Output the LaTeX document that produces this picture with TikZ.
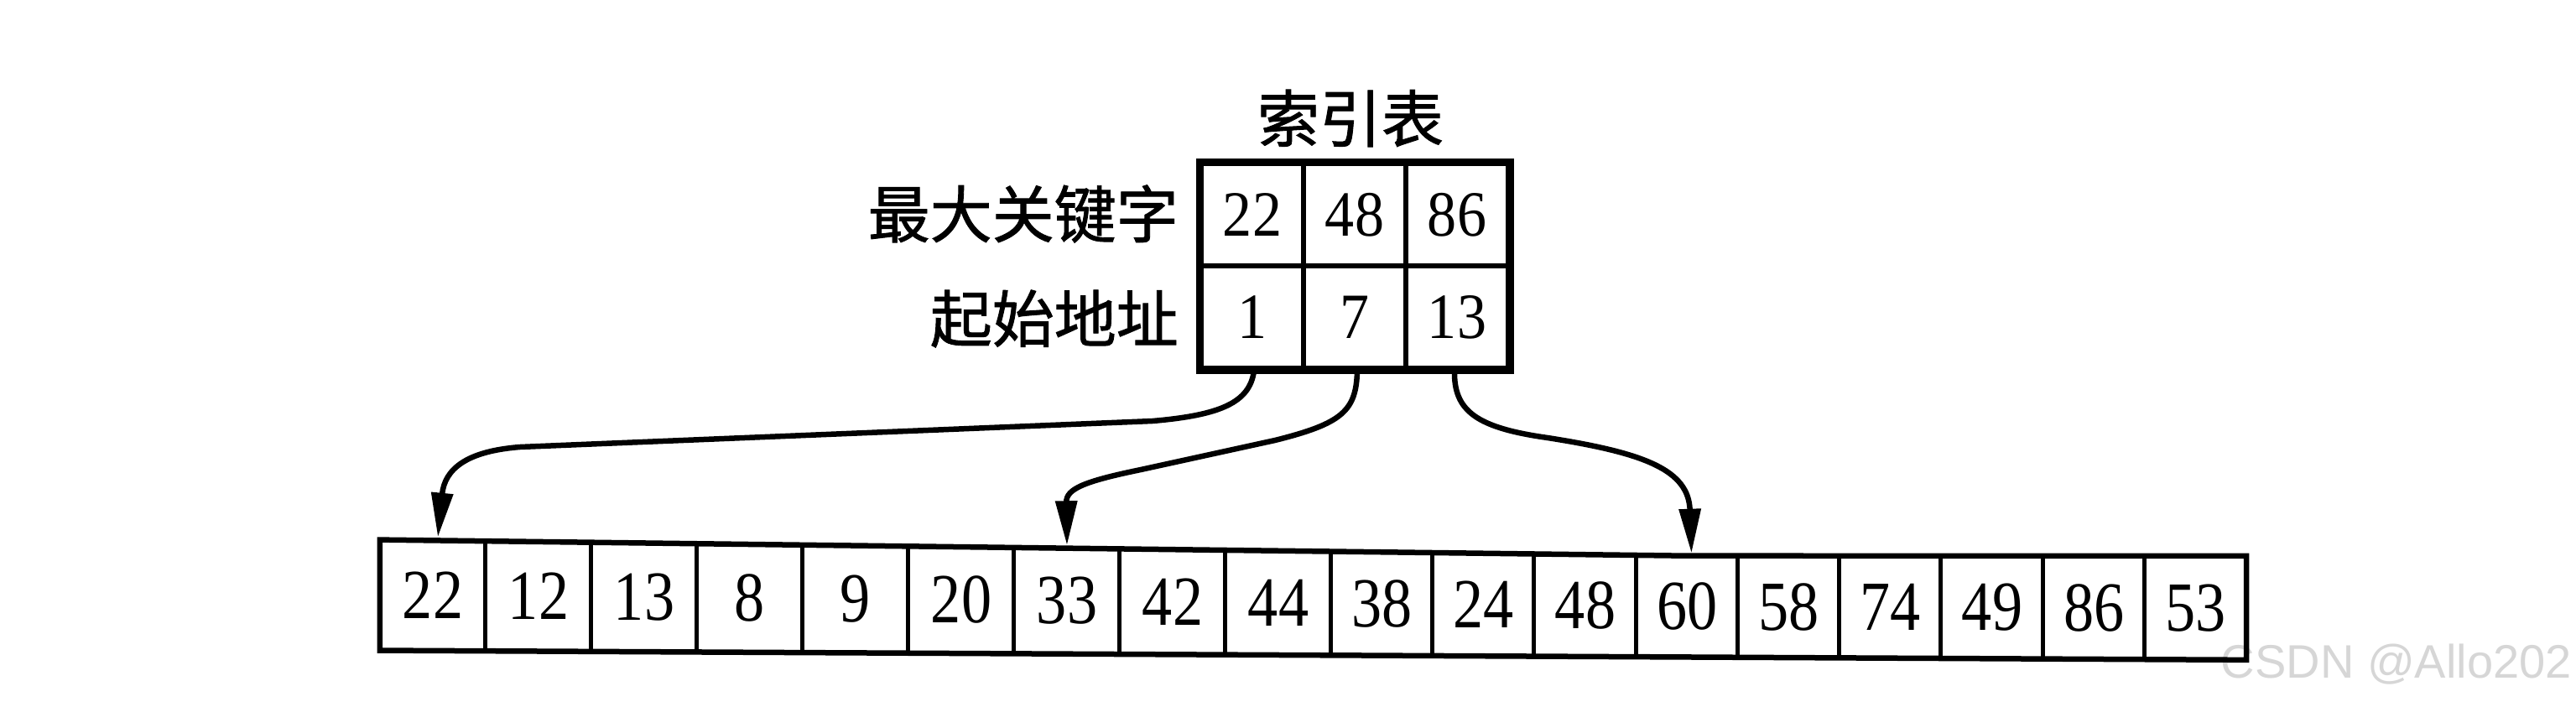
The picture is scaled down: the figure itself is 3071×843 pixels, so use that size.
\documentclass[tikz,border=0pt]{standalone}
\usepackage{fontspec}
\setmainfont{Liberation Serif}
\newfontfamily\cjk[FakeBold=1.2]{Noto Sans CJK SC}
\newfontfamily\wmfont{Liberation Sans}
\newfontfamily\tabfont[FakeStretch=0.91]{Liberation Serif}
\newfontfamily\arrfont[FakeStretch=0.86]{Liberation Serif}
\usetikzlibrary{arrows.meta}
\definecolor{wmgray}{RGB}{214,214,214}
\begin{document}
\begin{tikzpicture}[x=1pt,y=-1pt,
  tcell/.style={font=\tabfont\fontsize{77}{80}\selectfont, inner sep=0pt, draw,
    line width=6pt, minimum width=122pt, minimum height=122pt},
  acell/.style={font=\arrfont\fontsize{84}{88}\selectfont, inner sep=0pt},
  divider/.style={line width=5pt},
  lab/.style={font=\cjk\fontsize{74}{80}\selectfont, inner sep=0pt},
  link/.style={line width=6.5pt, -{Triangle[length=53pt,width=25pt]}},
  wm/.style={font=\wmfont\fontsize{56}{60}\selectfont, text=wmgray, inner sep=0pt}
]
\useasboundingbox (0,0) rectangle (3071,843);
\fill[white] (0,0) rectangle (3071,843);

% watermark (below the drawing)
\node[wm, anchor=east] (wmark) at (3066,792) {CSDN @Allo202};

% title and row labels
\node[lab] (title) at (1610,141) {索引表};
\node[lab, anchor=east] (lab1) at (1405,255) {最大关键字};
\node[lab, anchor=east] (lab2) at (1405,380) {起始地址};

% index table
\foreach \v [count=\j] in {22,48,86}
  \node[tcell] (t1\j) at ({1432+(\j-0.5)*122},256) {\v};
\foreach \v [count=\j] in {1,7,13}
  \node[tcell] (t2\j) at ({1432+(\j-0.5)*122},378) {\v};
\draw[line width=7pt] (t11.north west) rectangle (t23.south east);

% array (slightly skewed as in the scan)
\foreach \v/\l/\r [count=\i] in {22/453/579, 12/579/705, 13/705/831, 8/831/957,
    9/957/1083, 20/1083/1209, 33/1209/1335, 42/1335/1461, 44/1461/1587,
    38/1587/1708, 24/1708/1829, 48/1829/1951, 60/1951/2072, 58/2072/2193,
    74/2193/2314, 49/2314/2436, 86/2436/2557, 53/2557/2678} {
  \pgfmathsetmacro\cellx{(\l+\r)/2}
  \pgfmathsetmacro\cellt{\cellx<2017 ? 643+(\cellx-453)*0.012788 : 663}
  \pgfmathsetmacro\cellb{775+(\cellx-453)*0.005393}
  \pgfmathsetmacro\cellw{\r-\l}
  \pgfmathsetmacro\cellh{\cellb-\cellt}
  \node[acell, minimum width=\cellw pt, minimum height=\cellh pt] (a\i)
    at (\cellx,{(\cellt+\cellb)/2}) {\v};
}
\foreach \i in {2,...,18}
  \draw[divider] (a\i.north west) -- (a\i.south west);
\draw[line width=6.5pt, line join=miter] (a1.north west) -- (a13.north) -- (a18.north east)
  -- (a18.south east) -- (a1.south west) -- cycle;

% connectors
\draw[link] ([xshift=2pt]t21.south) .. controls (1490,480) and (1455,495) .. (1374,502)
  -- (620,533) .. controls (555,538) and (530,560) .. ([xshift=6pt,yshift=3pt]a1.north);
\draw[link] ([xshift=3pt]t22.south) .. controls (1617,490) and (1600,505) .. (1520,525)
  -- (1360,560) .. controls (1292,574) and (1271,583) .. ([yshift=3pt]a7.north);
\draw[link] ([xshift=-3pt]t23.south) .. controls (1733,490) and (1760,510) .. (1845,522)
  .. controls (1960,540) and (2013,560) .. ([xshift=5pt,yshift=3pt]a13.north);
\end{tikzpicture}
\end{document}
